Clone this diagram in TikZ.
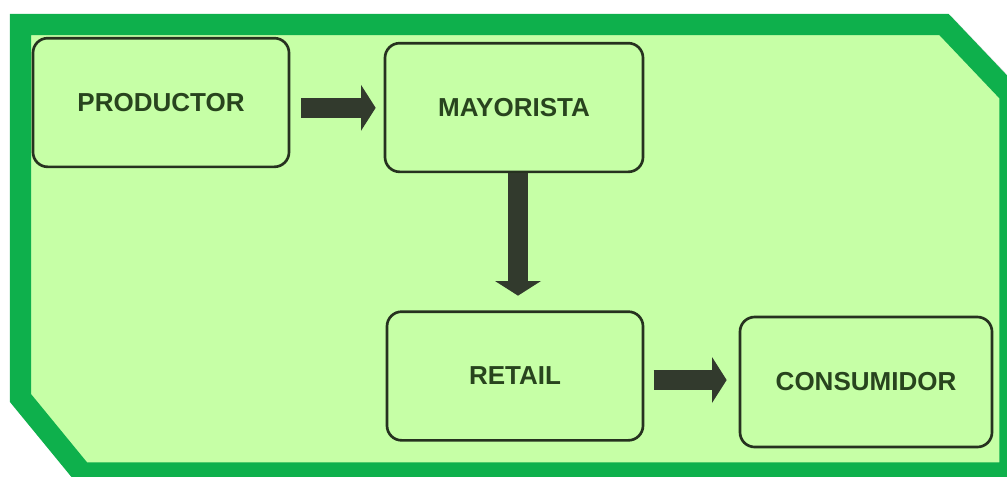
\documentclass[tikz,border=0pt]{standalone}
\usepackage{fontspec}
\setmainfont{Liberation Sans}
\usetikzlibrary{arrows.meta}
\definecolor{marcoverde}{RGB}{14,176,76}
\definecolor{fondoverde}{RGB}{198,255,166}
\definecolor{bordecaja}{RGB}{38,50,31}
\definecolor{textocaja}{RGB}{40,68,30}
\definecolor{flechaosc}{RGB}{50,58,45}
\begin{document}
\begin{tikzpicture}[x=0.75pt,y=0.75pt,yscale=-1,xscale=1,
  caja/.style={draw=bordecaja,line width=2pt,rounded corners=11pt,fill=fondoverde,
    minimum height=96.5pt,text=textocaja,font=\fontsize{19.5}{23}\selectfont\bfseries},
  flecha/.style={draw=flechaosc,line width=15.5pt,-{Triangle[width=34pt,length=11pt]}}]
\useasboundingbox (0,0) rectangle (1007,476);

%Shape: Frame shadow
\draw  [draw=black!35,line width=17pt,opacity=0.3,line join=miter] (23,27) -- (946,27) -- (1012,96) -- (1012,475) -- (85,475) -- (23,400) -- cycle ;
%Shape: Frame
\draw  [draw=marcoverde,line width=16pt,fill=fondoverde,line join=miter] (20.5,24.5) -- (944,24.5) -- (1010,94) -- (1010,473) -- (82,473) -- (20.5,398) -- cycle ;

% Text Node
\node [caja,minimum width=192pt] (prod) at (161,102.5) {PRODUCTOR};
% Text Node
\node [caja,minimum width=193.5pt] (may) at (514,107.5) {MAYORISTA};
% Text Node
\node [caja,minimum width=192pt] (ret) at (515,376) {RETAIL};
% Text Node
\node [caja,minimum width=189pt,minimum height=97.5pt] (cons) at (866,382) {CONSUMIDOR};

%Straight Lines
\draw [flecha,shorten <=8pt,shorten >=6pt] ([yshift=4pt]prod.east) -- ([yshift=4pt]prod.east -| may.west) ;
\draw [flecha,shorten >=11pt] ([xshift=3pt]may.south) -- ([xshift=3pt]may.south |- ret.north) ;
\draw [flecha,shorten <=7pt,shorten >=9pt] ([yshift=3pt]ret.east) -- ([yshift=3pt]ret.east -| cons.west) ;

\end{tikzpicture}
\end{document}
